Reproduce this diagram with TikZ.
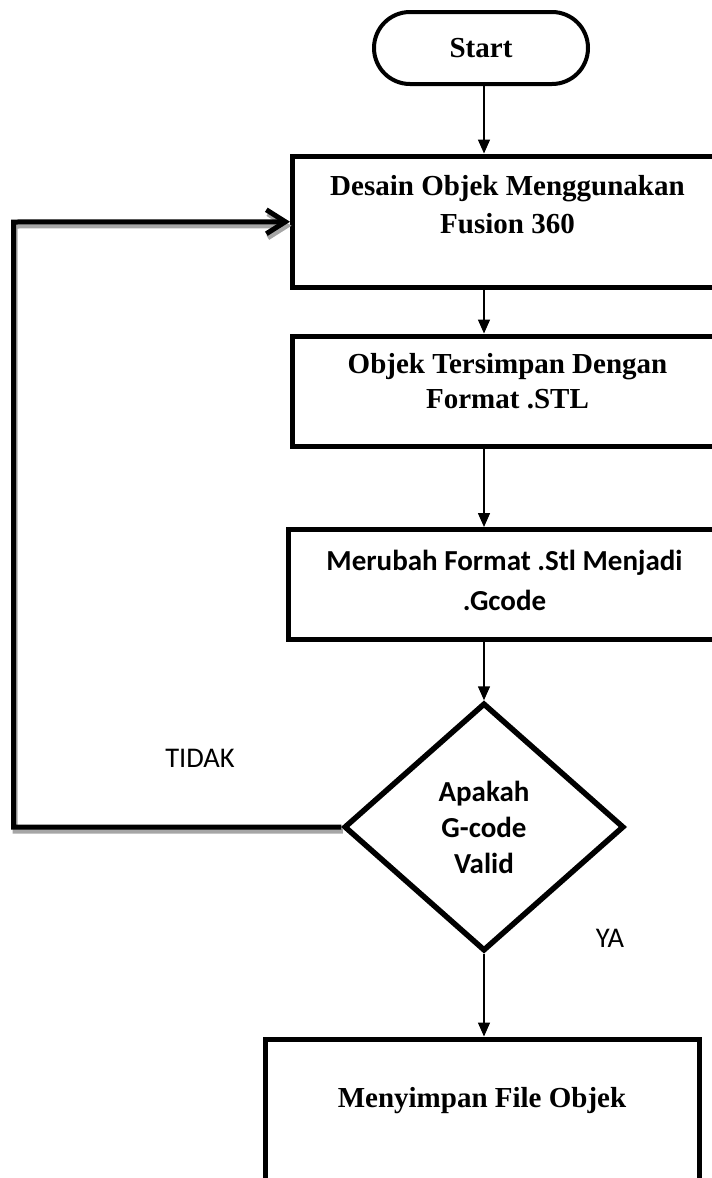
\documentclass[tikz,border=0pt]{standalone}
\usepackage{fontspec}
\setmainfont{Liberation Serif}
\newfontfamily\carlito{Carlito}
\usetikzlibrary{arrows.meta,shapes.geometric}
\begin{document}
\begin{tikzpicture}[x=1pt,y=-1pt,
  box/.style={draw,line width=5pt,rectangle,inner sep=0pt},
  ttext/.style={font=\bfseries\fontsize{29}{38}\selectfont,align=center,inner sep=0pt,anchor=base},
  ctext/.style={font=\carlito\bfseries\fontsize{29}{40}\selectfont,align=center,inner sep=0pt,anchor=base},
  lbl/.style={font=\carlito\fontsize{28.5}{34}\selectfont,inner sep=0pt,anchor=base},
  flow/.style={line width=1.5pt,-{Triangle[width=12pt,length=14pt]}},
  loopline/.style={line width=5pt,line join=miter},
  shadowline/.style={line width=5pt,draw=black!35,line join=miter},
  barb/.style={-{Straight Barb[length=19pt,width=24pt]}},
]
\useasboundingbox (0,0) rectangle (712,1178);
\clip (0,0) rectangle (712,1178);

% nodes
\node[draw,line width=4pt,rounded corners=36pt,minimum width=214,minimum height=72,inner sep=0pt,
      font=\bfseries\fontsize{29}{34}\selectfont] (s) at (481,48) {Start};

\node[box,minimum width=430,minimum height=131.5] (b1) at (507.5,221.75) {};
\node[ttext] (t1) at (507.5,233) {Desain Objek Menggunakan\\Fusion 360};

\node[box,minimum width=430,minimum height=110.5] (b2) at (507.5,391.25) {};
\node[ttext,font=\bfseries\fontsize{29}{35}\selectfont] (t2) at (507.5,408) {Objek Tersimpan Dengan\\Format .STL};

\node[box,minimum width=432,minimum height=109.5] (b3) at (504.5,584.25) {};
\node[ctext] (t3) at (504.5,610) {Merubah Format .Stl Menjadi\\.Gcode};

\node[draw,diamond,line width=5.5pt,minimum width=280,minimum height=248,inner sep=0pt,align=center,
      font=\carlito\bfseries\fontsize{29}{36}\selectfont] (dia) at (484,827) {Apakah\\G-code\\Valid};

\node[box,minimum width=434,minimum height=211] (b4) at (482,1144.5) {};
\node[ttext] (t4) at (482,1107) {Menyimpan File Objek};

\node[lbl] (tidak) at (200,767) {TIDAK};
\node[lbl] (ya) at (610,947) {YA};

% loop back with shadow
\coordinate (lt) at (13.5,222);
\coordinate (lb) at (lt |- dia.west);
\draw[shadowline,barb] ([shift={(1.5,4)}]dia.west) -- ([shift={(1.5,4)}]lb) -- ([shift={(1.5,4)}]lt) -- ([shift={(1.5,4)}]b1.west);
\draw[loopline,barb] (dia.west) -- (lb) -- (lt) -- (b1.west);

% main flow
\draw[flow] (dia.north |- s.south) -- (dia.north |- b1.north);
\draw[flow] (dia.north |- b1.south) -- (dia.north |- b2.north);
\draw[flow] (dia.north |- b2.south) -- (dia.north |- b3.north);
\draw[flow] (dia.north |- b3.south) -- (dia.north);
\draw[flow] (dia.south) -- (dia.south |- b4.north);
\end{tikzpicture}
\end{document}
